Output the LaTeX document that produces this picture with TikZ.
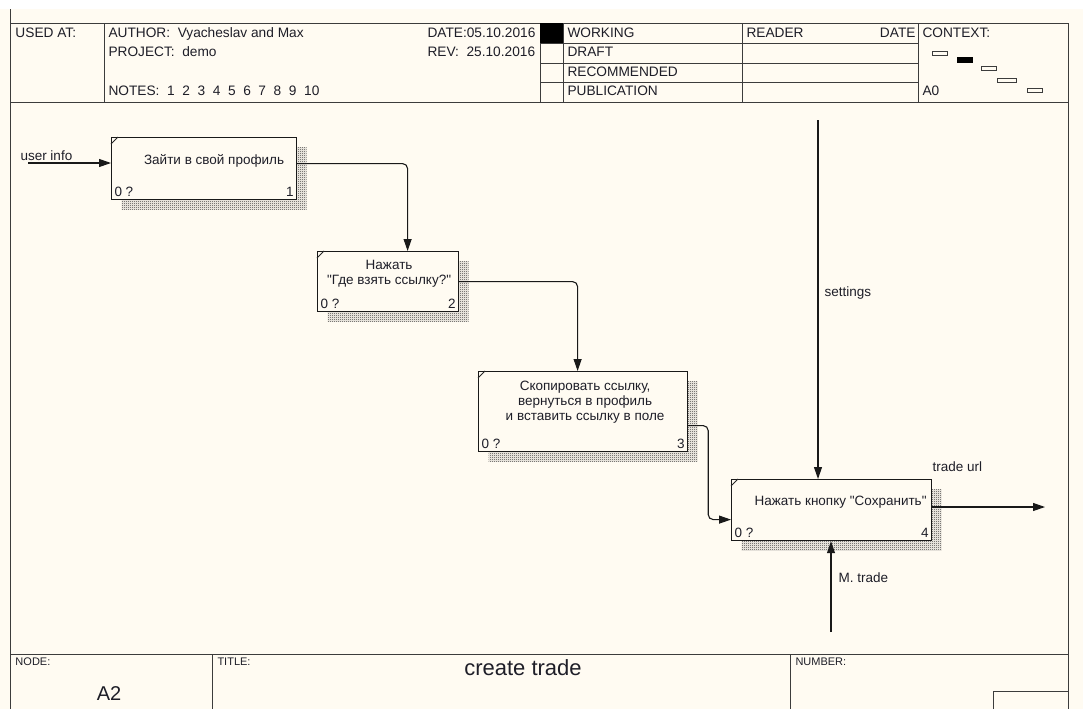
\documentclass[tikz,border=0pt]{standalone}
\usepackage{fontspec}
\setmainfont{Liberation Sans}
\usetikzlibrary{arrows.meta, patterns, calc}
\definecolor{paper}{RGB}{255,251,242}
\definecolor{frameline}{RGB}{60,60,60}
\definecolor{ink}{RGB}{30,30,40}

% fine checker for the box shadows
\pgfdeclarepatternformonly{finecheck}{\pgfpointorigin}{\pgfqpoint{2pt}{2pt}}{\pgfqpoint{2pt}{2pt}}{%
  \pgfpathrectangle{\pgfpointorigin}{\pgfqpoint{1pt}{1pt}}%
  \pgfpathrectangle{\pgfqpoint{1pt}{1pt}}{\pgfqpoint{1pt}{1pt}}%
  \pgfusepath{fill}}

\begin{document}
\begin{tikzpicture}[x=1pt, y=-1pt, line width=1pt,
  hdr/.style={font=\fontsize{13.7}{15}\selectfont, inner sep=0pt, anchor=base west, text=ink},
  foot/.style={font=\fontsize{11}{13}\selectfont, inner sep=0pt, anchor=base west, text=ink},
  actbox/.style={draw=black!90, line width=1.2pt, fill=paper, anchor=north west, inner sep=0pt,
    preaction={draw=none, pattern=finecheck, pattern color=black!80,
      transform canvas={shift={(10pt,-10pt)}}}},
  boxtext/.style={font=\fontsize{13.5}{15}\selectfont, align=center, inner sep=0pt, text=ink},
  corner/.style={font=\fontsize{13.5}{15}\selectfont, inner sep=3pt, text=ink},
  flow/.style={-{Triangle[length=12pt,width=8pt]}, black!90, line width=1.1pt},
  arrlabel/.style={font=\fontsize{13.5}{15}\selectfont, inner sep=0pt, anchor=base west, text=ink}]

% page
\fill[white] (0,0) rectangle (1083,709);
\fill[paper] (0,9) rectangle (1083,709);

% frame
\draw[frameline] (10,9) -- (10,709);
\draw[frameline] (1068,23) -- (1068,709);
\draw[frameline] (10,23) -- (1068,23);
\draw[frameline] (10,102) -- (1068,102);
\foreach \x in {104,540,563,742,918}
  \draw[frameline] (\x,23) -- (\x,102);
\foreach \y in {43,63,82}
  \draw[frameline] (540,\y) -- (918,\y);
\fill[black] (540,23) rectangle (563,43);

% header texts
\node[hdr] (usedat) at (15,37) {USED AT:};
\node[hdr] (author) at (108,37) {AUTHOR:\ \ Vyacheslav and Max};
\node[hdr] (project) at (108,56) {PROJECT:\ \ demo};
\node[hdr] (notes) at (108,95) {NOTES:\ \ 1\ \ 2\ \ 3\ \ 4\ \ 5\ \ 6\ \ 7\ \ 8\ \ 9\ \ 10};
\node[hdr] (date) at (427,37) {DATE:05.10.2016};
\node[hdr] (rev) at (427,56) {REV:\ \ 25.10.2016};
\node[hdr] (working) at (567,37) {WORKING};
\node[hdr] (draft) at (567,56) {DRAFT};
\node[hdr] (recommended) at (567,76) {RECOMMENDED};
\node[hdr] (publication) at (567,95) {PUBLICATION};
\node[hdr] (reader) at (746,37) {READER};
\node[hdr, anchor=base east] (rdate) at (916,37) {DATE};
\node[hdr] (context) at (922,37) {CONTEXT:};
\node[hdr] (anull) at (922,95) {A0};

% context thumbnails
\draw[frameline] (932,51) rectangle (947,55);
\draw[black, fill=black] (957,57) rectangle (972,62);
\draw[frameline] (981,66) rectangle (996,70);
\draw[frameline] (997,78) rectangle (1016,82);
\draw[frameline] (1027,88) rectangle (1042,92);

% footer
\draw[frameline] (10,654) -- (1068,654);
\draw[frameline] (212,654) -- (212,709);
\draw[frameline] (790,654) -- (790,709);
\draw[frameline] (993,709) |- (1068,691);
\node[foot] (nodelbl) at (15,665) {NODE:};
\node[foot] (titlelbl) at (217,665) {TITLE:};
\node[foot] (numberlbl) at (795,665) {NUMBER:};
\node[font=\fontsize{20}{24}\selectfont, inner sep=0pt, anchor=base, text=ink] (anode) at (109,700) {A2};
\node[font=\fontsize{22}{26}\selectfont, inner sep=0pt, anchor=base, text=ink] (title) at (523,675) {create trade};

% activity boxes
\node[actbox, minimum width=185pt, minimum height=62pt] (b1) at (111,137) {};
\node[actbox, minimum width=141pt, minimum height=60pt] (b2) at (317,251) {};
\node[actbox, minimum width=209pt, minimum height=80pt] (b3) at (478,371) {};
\node[actbox, minimum width=200pt, minimum height=61pt] (b4) at (731,479) {};

\node[boxtext] (b1-t) at ([xshift=10pt,yshift=8pt]b1.center) {Зайти в свой профиль};
\node[boxtext] (b2-t) at ([xshift=1pt,yshift=8pt]b2.center) {Нажать\\ \textquotedbl Где взять ссылку?\textquotedbl};
\node[boxtext] (b3-t) at ([xshift=2pt,yshift=9pt]b3.center) {Скопировать ссылку,\\ вернуться в профиль\\ и вставить ссылку в поле};
\node[boxtext] (b4-t) at ([xshift=9pt,yshift=8pt]b4.center) {Нажать кнопку \textquotedbl Сохранить\textquotedbl};

\foreach \b/\n in {b1/1, b2/2, b3/3, b4/4} {
  \node[corner, anchor=south west] (\b-q) at (\b.south west) {0 ?};
  \node[corner, anchor=south east] (\b-n) at (\b.south east) {\n};
  \draw[black!85] (\b.north west) ++(0,7) -- ++(7,-7);
}

% arrows
\coordinate (ui) at (28,163);
\coordinate (st) at (818,120);
\coordinate (mt) at (831,632);
\coordinate (tu) at (1045,507);

\draw[flow] (ui) -- (ui -| b1.west);
\draw[flow, rounded corners=5pt] ([yshift=5pt]b1.east) -| ([xshift=19.5pt]b2.north);
\draw[flow, rounded corners=5pt] (b2.east) -| ([xshift=-5.5pt]b3.north);
\draw[flow, rounded corners=5pt] ([yshift=-14pt]b3.east) -- ++(20,0) |- ([yshift=-9.5pt]b4.west);
\draw[flow] (st) -- (st |- b4.north);
\draw[flow] (mt) -- (mt |- b4.south);
\draw[flow] (tu -| b4.east) -- (tu);

\node[arrlabel] (uilbl) at (20,160) {user info};
\node[arrlabel] (stlbl) at (824,296) {settings};
\node[arrlabel] (mtlbl) at (838,582) {M. trade};
\node[arrlabel] (tulbl) at (932,471) {trade url};
\end{tikzpicture}
\end{document}
